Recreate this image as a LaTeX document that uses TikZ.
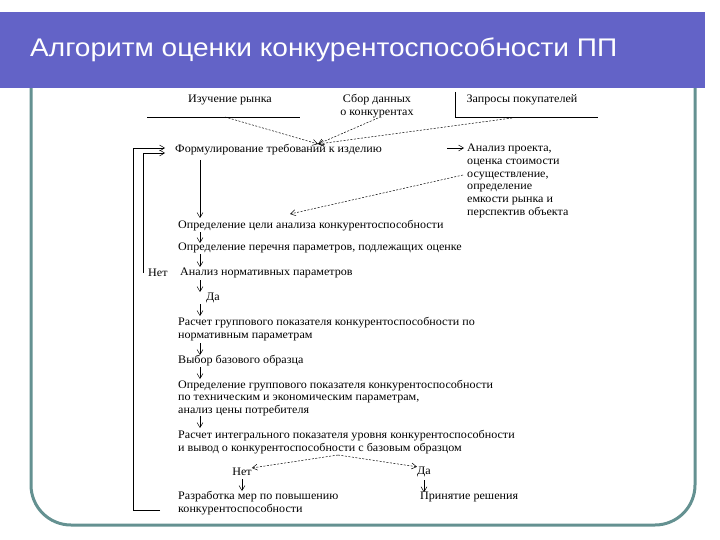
\documentclass[tikz,border=0pt]{standalone}
\usepackage{fontspec}
\setmainfont{Liberation Serif}
\newfontfamily\titlefont{Liberation Sans}
\usetikzlibrary{arrows.meta}
\definecolor{barblue}{RGB}{99,99,199}
\definecolor{frame}{RGB}{100,145,145}
\begin{document}
\begin{tikzpicture}[x=1pt,y=-1pt,
  txt/.style={font=\fontsize{11.5}{12.8}\selectfont,inner sep=0pt,anchor=west,align=left,xscale=1.05,transform shape},
  arr/.style={-{Straight Barb[length=5pt,width=6pt]},line width=0.5pt},
  darr/.style={arr,dashed,dash pattern=on 2pt off 1.5pt}]
\useasboundingbox (0,0) rectangle (720,540);
\fill[white] (0,0) rectangle (720,540);
\draw[frame,line width=3pt,rounded corners=40pt] (31,88) -- (31,525) -- (695,525) -- (695,88);
\fill[barblue] (0,12) rectangle (705,88);
\node[font=\titlefont\fontsize{25.5}{28}\selectfont,text=white,anchor=west,inner sep=0pt,xscale=1.1,transform shape] (title) at (30,50) {Алгоритм оценки конкурентоспособности ПП};
% top sources
\node[txt,anchor=center] (izu) at (230,100) {Изучение рынка};
\draw (147,117) -- (300,117);
\node[txt,anchor=center,align=center] (sbor) at (377,106) {Сбор данных\\о конкурентах};
\node[txt,anchor=center] (zap) at (522,100) {Запросы покупателей};
\draw (455,92) -- (455,117) -- (598,117);
\coordinate (tgt) at (318,144);
\coordinate (izuS) at (225,117);
\coordinate (sborS) at (378,118);
\coordinate (zapS) at (512,118);
\draw[darr] (izuS) -- (tgt);
\draw[darr] (sborS) -- (tgt);
\draw[darr] (zapS) -- (tgt);
% main chain
\node[txt] (f1) at (175,150) {Формулирование требований к изделию};
\node[txt] (an) at (467,181) {Анализ проекта,\\оценка стоимости\\осуществление,\\определение\\емкости рынка и\\перспектив объекта};
\coordinate (anIn) at (447,148);
\coordinate (anInE) at (464,148);
\draw[arr] (anIn) -- (anInE);
\node[txt] (f2) at (178,226) {Определение цели анализа конкурентоспособности};
\coordinate (c2) at (290,214);
\coordinate (anS) at (463,175);
\draw[darr] (anS) -- (c2);
\node[txt] (f3) at (178,248) {Определение перечня параметров, подлежащих оценке};
\node[txt] (f4) at (180,273) {Анализ нормативных параметров};
\node[txt] (net1) at (148,273) {Нет};
\node[txt] (da1) at (206,298) {Да};
\node[txt] (f5) at (178,329) {Расчет группового показателя конкурентоспособности по\\нормативным параметрам};
\node[txt] (f6) at (178,361) {Выбор базового образца};
\node[txt] (f7) at (178,398) {Определение группового показателя конкурентоспособности\\по техническим и экономическим параметрам,\\анализ цены потребителя};
\node[txt] (f8) at (178,442) {Расчет интегрального показателя уровня конкурентоспособности\\и вывод о конкурентоспособности с базовым образцом};
\node[txt,anchor=center] (net2) at (242,472) {Нет};
\node[txt,anchor=center] (da2) at (424,472) {Да};
\node[txt] (f9) at (178,503) {Разработка мер по повышению\\конкурентоспособности};
\node[txt] (f10) at (420,497) {Принятие решения};
% vertical arrows
\draw[arr] (200,160) -- (200,218);
\draw[arr] (200,232) -- (200,243);
\draw[arr] (200,254) -- (200,267);
\draw[arr] (200,280) -- (200,292);
\draw[arr] (200,304) -- (200,316);
\draw[arr] (200,343) -- (200,355);
\draw[arr] (200,367) -- (200,379);
\draw[arr] (200,416) -- (200,428);
\draw[darr] (338,455) -- (net2.north east);
\draw[darr] (338,455) -- (da2.north west);
\draw[arr] (net2.south) ++(0,3) -- ++(0,12);
\draw[arr] (da2.south) ++(0,3) -- ++(0,12);
% feedback lines
\draw[arr] (143,273) -- (143,153) -- (165,153);
\draw[arr] (160,510) -- (133,510) -- (133,148) -- (165,148);
\end{tikzpicture}
\end{document}
